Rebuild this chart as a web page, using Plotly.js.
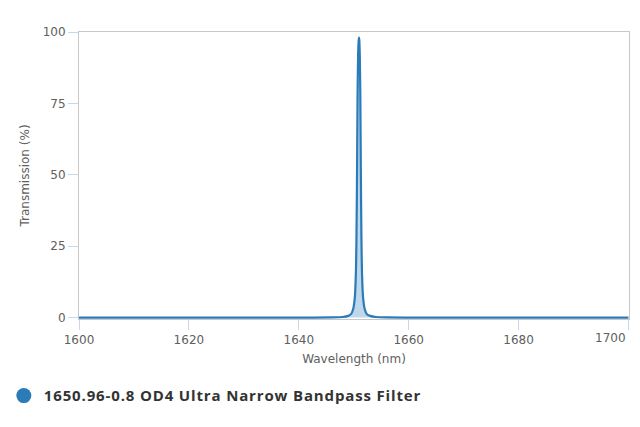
<!DOCTYPE html>
<html>
<head>
<meta charset="utf-8">
<script src="https://cdn.plot.ly/plotly-3.0.1.min.js"></script>
<style>
  html, body { margin: 0; padding: 0; background: #fff; }
  #myDiv { width: 640px; height: 427px; }
  .legendtext { letter-spacing: 0.85px; }
</style>
</head>
<body>
<div id="myDiv"></div>
<script>
// filter name
let seriesName = '1650.96-0.8 OD4 Ultra Narrow Bandpass Filter'

// wavelength (nm) and transmission (%)
let wavelength = [1600, 1640, 1646, 1648, 1649, 1649.5, 1649.9, 1650.2, 1650.4, 1650.5, 1650.6,
  1650.7, 1650.8, 1650.9, 1650.96, 1651.02, 1651.1, 1651.2, 1651.3, 1651.4, 1651.5,
  1651.7, 1652, 1652.4, 1653, 1654, 1656, 1662, 1700]
let transmission = [0, 0, 0.05, 0.2, 0.6, 1.2, 3, 7, 16, 28, 50,
  78, 92, 97, 98, 97, 92, 78, 50, 28, 16,
  7, 3, 1.2, 0.6, 0.2, 0.05, 0, 0]

// axis ticks; the last label is drawn right-aligned at the edge like the original
let xTicks = [1600, 1620, 1640, 1660, 1680, 1700]
let xTickText = ['1600', '1620', '1640', '1660', '1680', '']
let lastXLabel = '1700'
let yTicks = [0, 25, 50, 75, 100]

let lineColor = '#2b7bb9'

// the curve itself
var trace1 = {
  x: wavelength,
  y: transmission,
  mode: 'lines',
  type: 'scatter',
  fill: 'tozeroy',
  fillcolor: 'rgba(43,123,185,0.3)',
  line: {color: lineColor, width: 2.2, shape: 'spline', smoothing: 0.6},
  name: seriesName,
  legendgroup: 'f',
  showlegend: false,
  hoverinfo: 'x+y'
}

// legend entry only (round symbol)
var trace2 = {
  x: [null],
  y: [null],
  mode: 'markers',
  type: 'scatter',
  marker: {color: lineColor, size: 15, symbol: 'circle'},
  name: seriesName,
  legendgroup: 'f',
  showlegend: true
}

let tickFont = {family: 'DejaVu Sans', size: 12, color: '#606060'}
let titleFont = {family: 'DejaVu Sans', size: 12, color: '#606060'}

var layout = {
  width: 640,
  height: 427,
  margin: {l: 79, r: 11, t: 32, b: 108},
  paper_bgcolor: '#fff',
  plot_bgcolor: '#fff',
  showlegend: true,
  xaxis: {
    range: [1600, 1700.1],
    tickvals: xTicks,
    ticktext: xTickText,
    ticks: 'outside',
    ticklen: 10,
    tickcolor: '#ccd6eb',
    tickfont: tickFont,
    showgrid: false,
    zeroline: false,
    showline: true,
    mirror: true,
    linecolor: '#c8c8c8',
    linewidth: 1,
    title: {text: 'Wavelength (nm)', font: titleFont, standoff: 8}
  },
  yaxis: {
    range: [-0.5, 100],
    tickvals: yTicks,
    ticks: 'outside',
    ticklen: 10,
    tickcolor: '#ccd6eb',
    tickfont: tickFont,
    showgrid: false,
    zeroline: false,
    showline: true,
    mirror: true,
    linecolor: '#c8c8c8',
    linewidth: 1,
    title: {text: 'Transmission (%)', font: titleFont, standoff: 10}
  },
  annotations: [{
    x: xTicks[xTicks.length - 1],
    xref: 'x',
    xanchor: 'right',
    y: 0,
    yref: 'paper',
    yanchor: 'top',
    yshift: -10,
    text: lastXLabel,
    showarrow: false,
    font: tickFont
  }],
  legend: {
    orientation: 'h',
    xref: 'container',
    yref: 'container',
    x: 0.006,
    xanchor: 'left',
    y: 0.073,
    yanchor: 'middle',
    font: {family: 'Open Sans', size: 15, color: '#333333', weight: 700},
    itemwidth: 30
  }
}

Plotly.newPlot('myDiv', [trace1, trace2], layout, {displayModeBar: false, staticPlot: true})
</script>
</body>
</html>
